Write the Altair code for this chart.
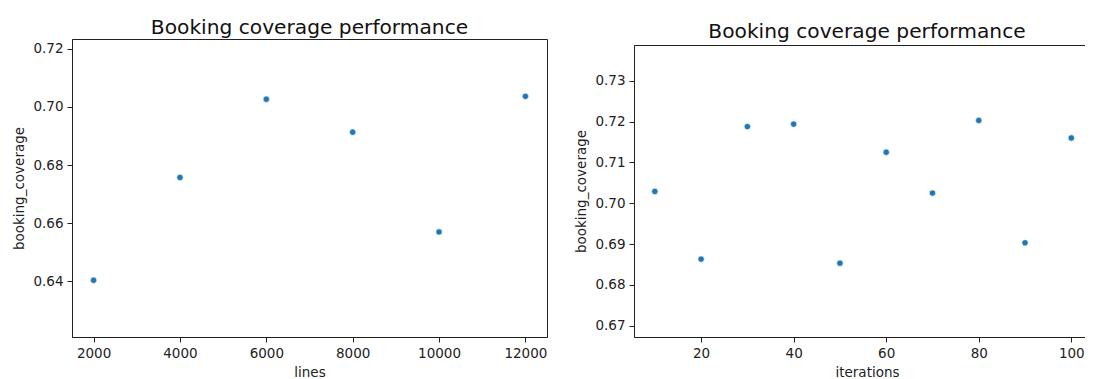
import altair as alt
import pandas as pd

# --- data ---
lines = [2000, 4000, 6000, 8000, 10000, 12000]
lines_cov = [0.6404, 0.6757, 0.7026, 0.6913, 0.6570, 0.7036]

iterations = [10, 20, 30, 40, 50, 60, 70, 80, 90, 100]
iter_cov = [0.7029, 0.6863, 0.7188, 0.7194, 0.6853, 0.7125, 0.7025, 0.7203, 0.6903, 0.7160]

title_text = "Booking coverage performance"
y_title = "booking_coverage"

left_x_ticks = [2000, 4000, 6000, 8000, 10000, 12000]
left_y_ticks = [0.64, 0.66, 0.68, 0.70, 0.72]
right_x_ticks = [20, 40, 60, 80, 100]
right_y_ticks = [0.67, 0.68, 0.69, 0.70, 0.71, 0.72, 0.73]

df_left = pd.DataFrame({"lines": lines, "booking_coverage": lines_cov})
df_right = pd.DataFrame({"iterations": iterations, "booking_coverage": iter_cov})

POINT = dict(size=40, filled=True, color="#1f77b4", stroke="white",
             strokeWidth=0.6, opacity=1)

left = alt.Chart(df_left).mark_point(**POINT).encode(
    x=alt.X("lines:Q", title="lines",
            scale=alt.Scale(domain=[1500, 12500], nice=False, zero=False),
            axis=alt.Axis(values=left_x_ticks, format="d")),
    y=alt.Y("booking_coverage:Q", title=y_title,
            scale=alt.Scale(domain=[0.6209, 0.7233], nice=False, zero=False),
            axis=alt.Axis(values=left_y_ticks, format=".2f")),
).properties(
    width=475, height=298,
    title=alt.TitleParams(title_text, offset=6, dy=20.7, baseline="alphabetic"),
)

spacer = alt.Chart(pd.DataFrame({"v": [0]})).mark_point(opacity=0).encode(
    x=alt.value(0), y=alt.value(0)
).properties(width=466, height=1, view=alt.ViewBackground(strokeOpacity=0))

right = alt.Chart(df_right).mark_point(**POINT).encode(
    x=alt.X("iterations:Q", title="iterations",
            scale=alt.Scale(domain=[5.5, 106.2], nice=False, zero=False),
            axis=alt.Axis(values=right_x_ticks, format="d")),
    y=alt.Y("booking_coverage:Q", title=y_title,
            scale=alt.Scale(domain=[0.6672, 0.7388], nice=False, zero=False),
            axis=alt.Axis(values=right_y_ticks, format=".2f")),
).properties(
    width=466, height=292,
    title=alt.TitleParams(title_text, offset=7.5, dy=20.2, baseline="alphabetic"),
)

right_col = alt.vconcat(spacer, right, spacing=5, bounds="flush")

chart = alt.hconcat(left, right_col, spacing=87, bounds="flush").properties(
    autosize=alt.AutoSizeParams(type="none"),
    padding={"left": 64, "top": 31, "right": 1013, "bottom": 340},
).configure(
    font="DejaVu Sans",
).configure_view(
    stroke="#222", strokeWidth=1,
).configure_axis(
    grid=False,
    labelFont="DejaVu Sans", titleFont="DejaVu Sans",
    labelFontSize=13.5, titleFontSize=13.5,
    labelColor="#222", titleColor="#222",
    titleFontWeight="normal",
    tickSize=5, tickColor="#222", domainColor="#222",
    labelPadding=4, titlePadding=6,
).configure_title(
    font="DejaVu Sans", fontSize=20.2, fontWeight="normal", color="#111",
    anchor="middle",
)

chart.save("out.html", embed_options={"renderer": "svg", "actions": False})
